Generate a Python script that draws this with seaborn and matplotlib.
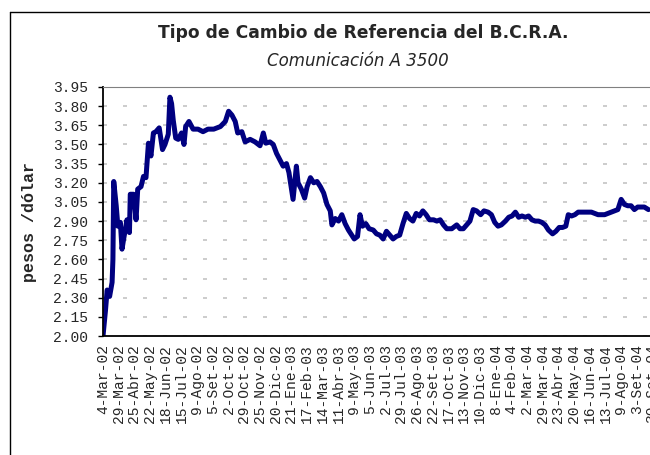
import matplotlib
matplotlib.use("Agg")
import matplotlib.pyplot as plt
from matplotlib.lines import Line2D
import pandas as pd
import seaborn as sns

# dia habil desde el 4-Mar-02 y tipo de cambio (pesos por dolar)
dias = [0, 3, 5, 8, 11, 12, 13, 16, 18, 21, 23, 25, 29, 32, 33, 37, 40, 42, 46, 49,
        52, 55, 58, 61, 64, 68, 72, 75, 79, 81, 83, 85, 88, 91, 95, 98, 100, 104, 109, 115,
        121, 127, 134, 142, 148, 152, 156, 160, 163, 168, 172, 178, 184, 190, 194, 197, 202, 206, 210, 214,
        218, 222, 225, 230, 234, 236, 240, 244, 247, 251, 255, 259, 263, 267, 271, 275, 277, 281, 285, 289,
        293, 297, 301, 304, 308, 311, 314, 318, 322, 327, 331, 335, 339, 343, 347, 351, 355, 359, 363, 367,
        371, 375, 379, 383, 387, 391, 395, 400, 404, 408, 412, 416, 422, 428, 432, 436, 440, 444, 448, 452,
        457, 461, 466, 470, 474, 478, 482, 487, 491, 495, 499, 503, 507, 511, 515, 519, 523, 527, 531, 535,
        539, 544, 548, 552, 556, 560, 563, 567, 571, 575, 583, 591, 599, 607, 615, 619, 623, 627, 631, 635,
        639, 643, 647, 651, 655, 660]
cambio = [2.00, 2.20, 2.36, 2.31, 2.42, 2.60, 3.21, 3.02, 2.86, 2.89, 2.68, 2.76, 2.91, 2.81, 3.11, 3.11, 2.91, 3.15, 3.17, 3.25,
          3.24, 3.51, 3.41, 3.59, 3.60, 3.63, 3.46, 3.50, 3.58, 3.87, 3.82, 3.69, 3.55, 3.54, 3.59, 3.50, 3.64, 3.68, 3.62, 3.62,
          3.60, 3.62, 3.62, 3.64, 3.68, 3.76, 3.73, 3.68, 3.59, 3.60, 3.52, 3.54, 3.52, 3.49, 3.59, 3.51, 3.52, 3.50, 3.43, 3.38,
          3.33, 3.35, 3.28, 3.07, 3.33, 3.20, 3.15, 3.08, 3.17, 3.24, 3.20, 3.21, 3.17, 3.12, 3.03, 2.98, 2.87, 2.92, 2.90, 2.95,
          2.88, 2.83, 2.79, 2.76, 2.78, 2.95, 2.86, 2.88, 2.84, 2.83, 2.80, 2.79, 2.76, 2.82, 2.79, 2.76, 2.78, 2.79, 2.88, 2.96,
          2.92, 2.90, 2.96, 2.94, 2.98, 2.95, 2.91, 2.91, 2.90, 2.91, 2.87, 2.84, 2.84, 2.87, 2.84, 2.84, 2.87, 2.90, 2.99, 2.98,
          2.95, 2.98, 2.97, 2.95, 2.89, 2.86, 2.87, 2.90, 2.93, 2.94, 2.97, 2.93, 2.94, 2.93, 2.94, 2.91, 2.90, 2.90, 2.89, 2.87,
          2.83, 2.80, 2.82, 2.85, 2.85, 2.86, 2.95, 2.94, 2.95, 2.97, 2.97, 2.97, 2.95, 2.95, 2.97, 2.98, 2.99, 3.07, 3.03, 3.02,
          3.02, 2.99, 3.01, 3.01, 3.01, 2.99]

# etiquetas del eje de categorias (una cada 19 dias habiles)
etiquetas = ["4-Mar-02", "29-Mar-02", "25-Abr-02", "22-May-02", "18-Jun-02", "15-Jul-02",
             "9-Ago-02", "5-Set-02", "2-Oct-02", "29-Oct-02", "25-Nov-02", "20-Dic-02",
             "21-Ene-03", "17-Feb-03", "14-Mar-03", "11-Abr-03", "9-May-03", "5-Jun-03",
             "2-Jul-03", "29-Jul-03", "26-Ago-03", "22-Set-03", "17-Oct-03", "13-Nov-03",
             "10-Dic-03", "8-Ene-04", "4-Feb-04", "2-Mar-04", "29-Mar-04", "23-Abr-04",
             "20-May-04", "16-Jun-04", "13-Jul-04", "9-Ago-04", "3-Set-04", "30-Set-04"]
paso = 19
yticks = [2.00, 2.15, 2.30, 2.45, 2.60, 2.75, 2.90, 3.05, 3.20, 3.35, 3.50, 3.65, 3.80, 3.95]

sns.set_style("white")
plt.rcParams["font.family"] = ["Liberation Mono", "DejaVu Sans"]

df = pd.DataFrame({"dia": dias, "cambio": cambio})

fig = plt.figure(figsize=(6.5, 4.55), dpi=100)
ax = fig.add_axes([103 / 650, 119 / 455, 557 / 650, 249 / 455])

sns.lineplot(data=df, x="dia", y="cambio", color="#000080", linewidth=3.6, ax=ax)

ax.set_xlim(0, 674)
ax.set_ylim(2.0, 3.95)

ax.set_yticks(yticks)
ax.set_yticklabels(["%.2f" % v for v in yticks], fontsize=10.5)
ax.set_xticks([i * paso for i in range(len(etiquetas))])
ax.set_xticklabels(etiquetas, rotation=90, fontsize=10.5)

ax.tick_params(axis="y", direction="out", length=3.6, width=1, color="black", pad=7, left=True)
ax.tick_params(axis="x", length=0, pad=6)

ax.yaxis.grid(True, color="#c4c4c4", linestyle=(0, (2.4, 9.6)), linewidth=1.2)
ax.xaxis.grid(False)

ax.set_xlabel("")
ax.set_ylabel("pesos /dólar", fontsize=12, fontweight="bold")
ax.yaxis.set_label_coords(-0.119, 0.458)

ax.spines["top"].set_color("#808080")
ax.spines["right"].set_visible(False)
for s in ["left", "bottom"]:
    ax.spines[s].set_color("black")
    ax.spines[s].set_linewidth(1.3)

fig.text(363 / 650, 1 - 33 / 455, "Tipo de Cambio de Referencia del B.C.R.A.",
         ha="center", va="center", fontsize=12.3, fontweight="bold", family="DejaVu Sans")
fig.text(358 / 650, 1 - 61 / 455, "Comunicación A 3500",
         ha="center", va="center", fontsize=12, style="italic", family="DejaVu Sans")

# marco del area del grafico (recortado a derecha y abajo)
fig.add_artist(Line2D([10 / 650, 10 / 650], [0, 1 - 12 / 455], color="black", linewidth=1))
fig.add_artist(Line2D([10 / 650, 1], [1 - 12 / 455, 1 - 12 / 455], color="black", linewidth=1))

fig.savefig("out.png", dpi=100)
